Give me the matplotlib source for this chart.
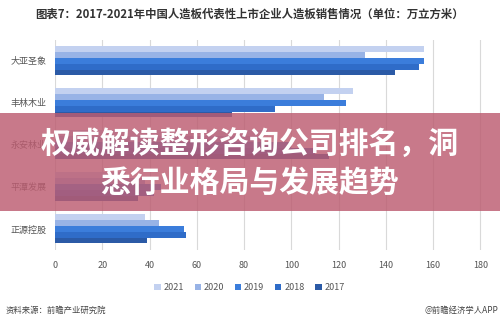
import matplotlib
matplotlib.use("Agg")
import matplotlib.pyplot as plt
from matplotlib.patches import Rectangle
import numpy as np

plt.rcParams['font.family'] = ['Noto Sans CJK SC', 'DejaVu Sans']

companies = ["大亚圣象", "丰林木业", "永安林业", "平潭发展", "正源控股"]
years = ["2021", "2020", "2019", "2018", "2017"]
colors = ["#c3d1f0", "#98b3e6", "#3b7ddb", "#2f6cc8", "#2b5aa6"]

# sales, 10k m3 (rows = years, cols = companies)
v2021 = [156, 126, 90, 30, 38]
v2020 = [131, 114, 88, 38, 44]
v2019 = [156, 123, 100, 45, 54.5]
v2018 = [154, 93, 110, 42, 55.5]
v2017 = [144, 75, 116, 35, 39]
values = [v2021, v2020, v2019, v2018, v2017]

title = "图表7：2017-2021年中国人造板代表性上市企业人造板销售情况（单位：万立方米）"
banner_1 = "权威解读整形咨询公司排名，洞"
banner_2 = "悉行业格局与发展趋势"

fig = plt.figure(figsize=(5, 3.25), dpi=100)
ax = fig.add_axes([0.11, 0.231, 0.884, 0.646])

y = np.arange(len(companies))
bh = 0.138
for i, (yr, vals, c) in enumerate(zip(years, values, colors)):
    off = (i - 2) * bh
    ax.barh(y + off, vals, height=bh, color=c, label=yr, linewidth=0)

ax.set_ylim(4.5, -0.5)
ax.set_xlim(0, 187)
ax.set_xticks(range(0, 181, 20))
ax.set_yticks(y)
ax.set_yticklabels(companies)
ax.tick_params(axis="both", length=0, labelsize=6.5, colors="#555555")
ax.tick_params(axis="y", pad=6)
ax.tick_params(axis="x", pad=8)
for s in ax.spines.values():
    s.set_visible(False)
ax.grid(axis="x", color="#d9d9d9", linewidth=0.8)
ax.set_axisbelow(True)

ax.legend(loc="upper center", bbox_to_anchor=(0.44, -0.12), ncol=5, frameon=False,
          fontsize=6.5, handlelength=0.7, handleheight=0.7, columnspacing=1.2,
          handletextpad=0.3, labelcolor="#555555")

fig.text(0.5, 0.957, title, ha="center", va="center", fontsize=8.2,
         fontweight="bold", color="#333333")
fig.text(0.012, 0.045, "资料来源：前瞻产业研究院", ha="left", va="center",
         fontsize=6, color="#444444")
fig.text(0.996, 0.045, "@前瞻经济学人APP", ha="right", va="center",
         fontsize=6, color="#444444")

# pink banner overlay
fig.patches.append(Rectangle((0, 1 - 211 / 325), 1, 98 / 325, transform=fig.transFigure,
                             facecolor="#bc5c70", alpha=0.82, zorder=5, linewidth=0))
fig.text(0.5, 1 - 145 / 325, banner_1, ha="center", va="center", fontsize=21.5,
         fontweight="bold", color="white", zorder=6)
fig.text(0.5, 1 - 183 / 325, banner_2, ha="center", va="center", fontsize=21.5,
         fontweight="bold", color="white", zorder=6)

fig.savefig("out.png", dpi=100)
